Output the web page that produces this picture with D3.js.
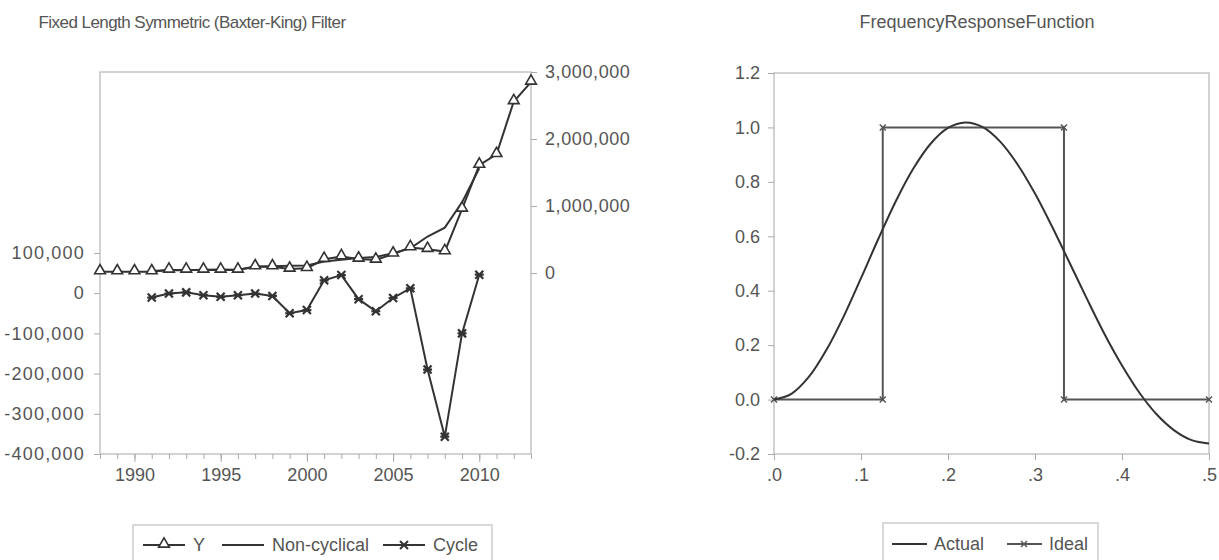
<!DOCTYPE html>
<html>
<head>
<meta charset="utf-8">
<script src="https://cdn.jsdelivr.net/npm/d3@7"></script>
<style>
  body { margin: 0; background: #fff; }
  svg text { font-family: "Liberation Sans", Arial, sans-serif; fill: #555; }
</style>
</head>
<body>
<div id="chart"></div>
<script>
const width = 1219;
const height = 560;

// left panel data (Baxter-King filter)
const years = [1988, 1989, 1990, 1991, 1992, 1993, 1994, 1995, 1996, 1997, 1998, 1999, 2000,
  2001, 2002, 2003, 2004, 2005, 2006, 2007, 2008, 2009, 2010, 2011, 2012, 2013];
const yValues = [20000, 20000, 20000, 20000, 45000, 45000, 45000, 45000, 45000, 95000, 95000, 60000, 70000,
  205000, 245000, 210000, 195000, 285000, 380000, 355000, 320000, 955000, 1610000, 1770000, 2560000, 2850000];
const filterYears = [1991, 1992, 1993, 1994, 1995, 1996, 1997, 1998, 1999, 2000,
  2001, 2002, 2003, 2004, 2005, 2006, 2007, 2008, 2009, 2010];
const nonCyclical = [31000, 46000, 43000, 50000, 54000, 50000, 96000, 102000, 110000, 112000,
  173000, 200000, 225000, 240000, 297000, 368000, 545000, 677000, 1055000, 1564000];
const cycle = [-11000, -1000, 2000, -5000, -9000, -5000, -1000, -7000, -50000, -42000,
  32000, 45000, -15000, -45000, -12000, 12000, -190000, -357000, -100000, 46000];
const leftTicks = [-400000, -300000, -200000, -100000, 0, 100000];
const rightTicks = [0, 1000000, 2000000, 3000000];
const yearTicks = [1990, 1995, 2000, 2005, 2010];

// right panel data (frequency response)
const freq = [0, 0.02, 0.04, 0.06, 0.08, 0.10, 0.12, 0.14, 0.16, 0.18, 0.20, 0.22, 0.24,
  0.26, 0.28, 0.30, 0.32, 0.34, 0.36, 0.38, 0.40, 0.42, 0.44, 0.46, 0.48, 0.50];
const actual = [0.000, 0.021, 0.083, 0.181, 0.305, 0.446, 0.591, 0.729, 0.848, 0.940, 0.998, 1.018, 1.001,
  0.948, 0.864, 0.757, 0.633, 0.501, 0.368, 0.240, 0.125, 0.025, -0.055, -0.113, -0.149, -0.161];
const idealFreq = [0, 0.125, 0.125, 0.3333, 0.3333, 0.5];
const ideal = [0, 0, 1, 1, 0, 0];
const freqTicks = [0, 0.1, 0.2, 0.3, 0.4, 0.5];
const respTicks = [-0.2, 0, 0.2, 0.4, 0.6, 0.8, 1.0, 1.2];

const svg = d3.select('#chart').append('svg')
  .attr('width', width)
  .attr('height', height);

const frameColor = '#c4c4c4';
const lineColor = '#333';

// plain hyphen for negatives, like the original
const loc = d3.formatLocale({decimal: '.', thousands: ',', grouping: [3], currency: ['', ''], minus: '-'});
const fmtComma = loc.format(',');
const fmt1 = loc.format('.1f');

// ---------- left panel ----------
const L = {left: 100, right: 531, top: 72, bottom: 454};
const x1 = d3.scaleLinear().domain([1988, 2013]).range([L.left, L.right]);
const yLeft = d3.scaleLinear().domain([-400000, 550000]).range([L.bottom, L.top]);
const yRight = d3.scaleLinear().domain([-2700000, 3000000]).range([L.bottom, L.top]);

svg.append('rect')
  .attr('x', L.left).attr('y', L.top)
  .attr('width', L.right - L.left).attr('height', L.bottom - L.top)
  .attr('fill', 'none').attr('stroke', frameColor).attr('stroke-width', 1.5);

const styleAxis = (g) => {
  g.select('.domain').remove();
  g.selectAll('line').attr('stroke', '#aaa');
  g.selectAll('text').attr('font-size', 18).attr('fill', '#555');
};

svg.append('g')
  .attr('transform', 'translate(' + L.left + ',0)')
  .call(d3.axisLeft(yLeft).tickValues(leftTicks).tickFormat(fmtComma).tickSize(6).tickPadding(9))
  .call(styleAxis)
  .call(g => g.selectAll('text').attr('letter-spacing', 1.2));

svg.append('g')
  .attr('transform', 'translate(' + L.right + ',0)')
  .call(d3.axisRight(yRight).tickValues(rightTicks).tickFormat(fmtComma).tickSize(6).tickPadding(8))
  .call(styleAxis)
  .call(g => g.selectAll('text').attr('letter-spacing', 0.6));

// minor year ticks
svg.append('g')
  .attr('transform', 'translate(0,' + L.bottom + ')')
  .call(d3.axisBottom(x1).tickValues(years).tickFormat('').tickSize(5))
  .call(styleAxis);
svg.append('g')
  .attr('transform', 'translate(0,' + L.bottom + ')')
  .call(d3.axisBottom(x1).tickValues(yearTicks).tickFormat(d3.format('d')).tickSize(8).tickPadding(6))
  .call(styleAxis);

// lines
const yPts = years.map((yr, i) => ({x: yr, v: yValues[i]}));
const ncPts = filterYears.map((yr, i) => ({x: yr, v: nonCyclical[i]}));
const cyPts = filterYears.map((yr, i) => ({x: yr, v: cycle[i]}));

svg.append('path').datum(ncPts)
  .attr('fill', 'none').attr('stroke', lineColor).attr('stroke-width', 2)
  .attr('d', d3.line().x(d => x1(d.x)).y(d => yRight(d.v)));

svg.append('path').datum(yPts)
  .attr('fill', 'none').attr('stroke', lineColor).attr('stroke-width', 2)
  .attr('d', d3.line().x(d => x1(d.x)).y(d => yRight(d.v)));

svg.append('path').datum(cyPts)
  .attr('fill', 'none').attr('stroke', lineColor).attr('stroke-width', 2)
  .attr('d', d3.line().x(d => x1(d.x)).y(d => yLeft(d.v)));

const tri = d3.symbol().type(d3.symbolTriangle).size(50);
const crossPath = 'M-4,-4L4,4M-4,4L4,-4M-4.5,0L4.5,0';

svg.append('g').selectAll('path').data(yPts).join('path')
  .attr('transform', d => 'translate(' + x1(d.x) + ',' + (yRight(d.v) - 1) + ')')
  .attr('d', tri)
  .attr('fill', '#fff').attr('stroke', lineColor).attr('stroke-width', 1.6);

svg.append('g').selectAll('path').data(cyPts).join('path')
  .attr('transform', d => 'translate(' + x1(d.x) + ',' + yLeft(d.v) + ')')
  .attr('d', crossPath)
  .attr('fill', 'none').attr('stroke', lineColor).attr('stroke-width', 2.2);

// title
svg.append('text')
  .attr('x', 192).attr('y', 28)
  .attr('text-anchor', 'middle').attr('font-size', 17)
  .attr('letter-spacing', -0.55)
  .text('Fixed Length Symmetric (Baxter-King) Filter');

// legend
const lg1 = svg.append('g');
lg1.append('rect').attr('x', 133).attr('y', 525).attr('width', 359).attr('height', 50)
  .attr('fill', '#fff').attr('stroke', '#ccc').attr('stroke-width', 1.5);
const leg1Items = [
  {label: 'Y', x0: 143, mark: 'tri'},
  {label: 'Non-cyclical', x0: 222, mark: null},
  {label: 'Cycle', x0: 383, mark: 'cross'}
];
leg1Items.forEach(it => {
  lg1.append('line').attr('x1', it.x0).attr('x2', it.x0 + 42).attr('y1', 545).attr('y2', 545)
    .attr('stroke', lineColor).attr('stroke-width', 2);
  if (it.mark === 'tri') {
    lg1.append('path').attr('transform', 'translate(' + (it.x0 + 21) + ',544)')
      .attr('d', tri).attr('fill', '#fff').attr('stroke', lineColor).attr('stroke-width', 1.6);
  } else if (it.mark === 'cross') {
    lg1.append('path').attr('transform', 'translate(' + (it.x0 + 21) + ',545)')
      .attr('d', crossPath).attr('fill', 'none').attr('stroke', lineColor).attr('stroke-width', 2);
  }
  lg1.append('text').attr('x', it.x0 + 50).attr('y', 551).attr('font-size', 18).text(it.label);
});

// ---------- right panel ----------
const R = {left: 774, right: 1209, top: 73, bottom: 454};
const x2 = d3.scaleLinear().domain([0, 0.5]).range([R.left, R.right]);
const y2 = d3.scaleLinear().domain([-0.2, 1.2]).range([R.bottom, R.top]);

svg.append('rect')
  .attr('x', R.left).attr('y', R.top)
  .attr('width', R.right - R.left).attr('height', R.bottom - R.top)
  .attr('fill', 'none').attr('stroke', frameColor).attr('stroke-width', 1.5);

svg.append('g')
  .attr('transform', 'translate(' + R.left + ',0)')
  .call(d3.axisLeft(y2).tickValues(respTicks).tickFormat(fmt1).tickSize(6).tickPadding(8))
  .call(styleAxis);

svg.append('g')
  .attr('transform', 'translate(0,' + R.bottom + ')')
  .call(d3.axisBottom(x2).tickValues(freqTicks)
    .tickFormat(d => fmt1(d).replace(/^0/, '')).tickSize(6).tickPadding(8))
  .call(styleAxis);

const idealPts = idealFreq.map((f, i) => ({x: f, v: ideal[i]}));
const actPts = freq.map((f, i) => ({x: f, v: actual[i]}));

svg.append('path').datum(idealPts)
  .attr('fill', 'none').attr('stroke', '#555').attr('stroke-width', 2)
  .attr('d', d3.line().x(d => x2(d.x)).y(d => y2(d.v)));

svg.append('g').selectAll('path').data(idealPts).join('path')
  .attr('transform', d => 'translate(' + x2(d.x) + ',' + y2(d.v) + ')')
  .attr('d', 'M-3,-3L3,3M-3,3L3,-3')
  .attr('stroke', '#555').attr('stroke-width', 1.5);

svg.append('path').datum(actPts)
  .attr('fill', 'none').attr('stroke', lineColor).attr('stroke-width', 2)
  .attr('d', d3.line().curve(d3.curveCatmullRom).x(d => x2(d.x)).y(d => y2(d.v)));

svg.append('text')
  .attr('x', 977).attr('y', 28)
  .attr('text-anchor', 'middle').attr('font-size', 18)
  .attr('word-spacing', -5)
  .text('Frequency Response Function');

const lg2 = svg.append('g');
lg2.append('rect').attr('x', 883).attr('y', 523).attr('width', 215).attr('height', 50)
  .attr('fill', '#fff').attr('stroke', '#ccc').attr('stroke-width', 1.5);
const leg2Items = [
  {label: 'Actual', x0: 892, mark: false},
  {label: 'Ideal', x0: 1007, mark: true}
];
leg2Items.forEach(it => {
  lg2.append('line').attr('x1', it.x0).attr('x2', it.x0 + 35).attr('y1', 544).attr('y2', 544)
    .attr('stroke', it.mark ? '#555' : lineColor).attr('stroke-width', 2);
  if (it.mark) {
    lg2.append('path').attr('transform', 'translate(' + (it.x0 + 17) + ',544)')
      .attr('d', 'M-3,-3L3,3M-3,3L3,-3').attr('stroke', '#555').attr('stroke-width', 1.5);
  }
  lg2.append('text').attr('x', it.x0 + 42).attr('y', 550).attr('font-size', 18).text(it.label);
});
</script>
</body>
</html>
